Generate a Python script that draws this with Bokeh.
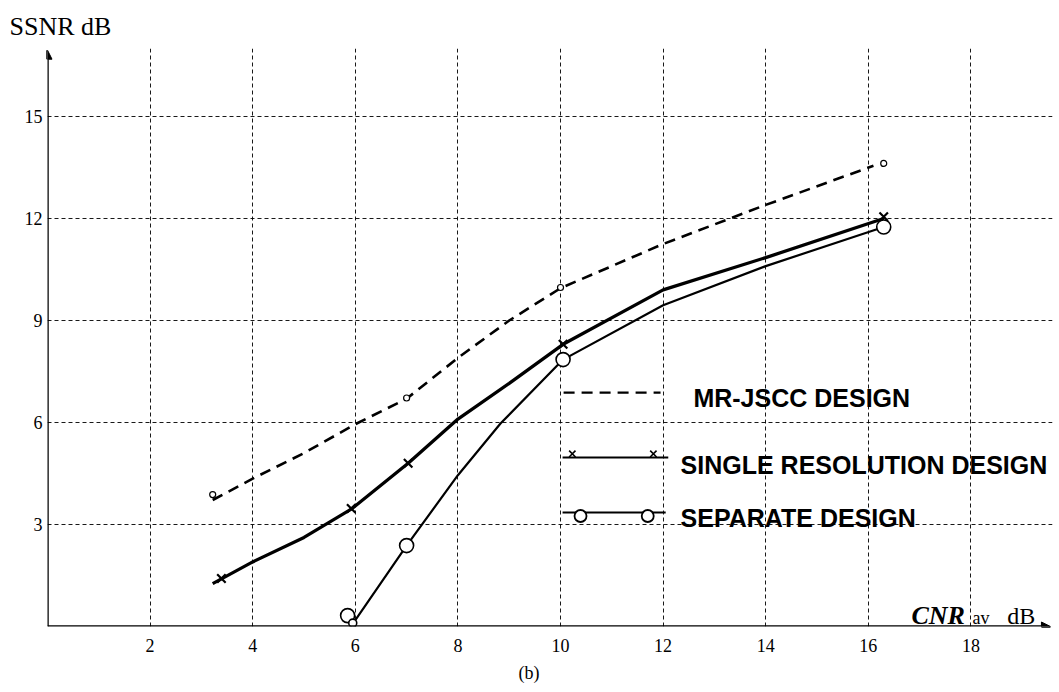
from bokeh.plotting import figure
from bokeh.models import Arrow, NormalHead, Label, FixedTicker, Range1d, Title
from bokeh.embed import file_html
from bokeh.resources import INLINE

# ---- data ----
x_ticks = [2, 4, 6, 8, 10, 12, 14, 16, 18]
y_ticks = [3, 6, 9, 12, 15]

mr_x = [3.22, 4.0, 5.0, 6.0, 7.0, 8.0, 9.0, 10.0, 12.0, 14.0, 16.1]
mr_y = [3.72, 4.35, 5.1, 5.95, 6.7, 7.9, 9.0, 9.95, 11.25, 12.4, 13.55]
mr_mark_x = [3.22, 7.0, 10.0, 16.3]
mr_mark_y = [3.88, 6.72, 9.97, 13.62]

sr_x = [3.22, 4.0, 5.0, 5.92, 7.03, 8.0, 9.0, 10.05, 12.0, 14.0, 16.3]
sr_y = [1.26, 1.9, 2.62, 3.45, 4.8, 6.1, 7.15, 8.3, 9.9, 10.85, 12.0]
sr_mark_x = [3.39, 5.92, 7.03, 10.05, 16.3]
sr_mark_y = [1.41, 3.47, 4.8, 8.3, 12.05]

sep_x = [5.95, 7.0, 8.0, 8.83, 10.05, 12.0, 14.0, 16.3]
sep_y = [0.08, 2.38, 4.45, 5.97, 7.85, 9.45, 10.6, 11.75]
sep_mark_x = [5.85, 5.95, 7.0, 10.05, 16.3]
sep_mark_y = [0.32, 0.1, 2.38, 7.85, 11.75]

legend_labels = ["MR-JSCC DESIGN", "SINGLE RESOLUTION DESIGN", "SEPARATE DESIGN"]

SERIF = "Liberation Serif"
SANS = "Liberation Sans"

p = figure(width=1058, height=690, output_backend="svg", toolbar_location=None,
           x_range=Range1d(0, 19.59), y_range=Range1d(0, 17),
           min_border_left=47, min_border_right=6, min_border_top=48, min_border_bottom=64)
p.outline_line_color = None
p.background_fill_color = "white"

# y-axis title at the top-left
p.title.text = "SSNR dB"
p.title.align = "left"
p.title.offset = -38
p.title.text_font = SERIF
p.title.text_font_style = "normal"
p.title.text_font_size = "26px"
p.title.text_color = "black"
p.title.standoff = 16

# caption below
p.add_layout(Title(text="(b)", align="left", offset=471, text_font=SERIF,
                   text_font_style="normal", text_font_size="18px", text_color="black",
                   standoff=12), "below")

# axes: labels only, lines drawn as arrows
for ax in (p.xaxis[0], p.yaxis[0]):
    ax.axis_line_color = None
    ax.major_tick_line_color = None
    ax.minor_tick_line_color = None
    ax.major_tick_out = 0
    ax.major_tick_in = 0
    ax.major_label_text_font = SERIF
    ax.major_label_text_font_size = "18px"
    ax.major_label_text_color = "black"
p.xaxis[0].ticker = FixedTicker(ticks=x_ticks)
p.yaxis[0].ticker = FixedTicker(ticks=y_ticks)
p.xaxis[0].major_label_standoff = 12
p.yaxis[0].major_label_standoff = 5

for g, t in ((p.xgrid[0], x_ticks), (p.ygrid[0], y_ticks)):
    g.ticker = FixedTicker(ticks=t)
    g.grid_line_color = "black"
    g.grid_line_dash = "4 3"
    g.grid_line_width = 1
    g.grid_line_alpha = 0.9

# axis arrows
p.add_layout(Arrow(end=NormalHead(size=9, fill_color="black", line_color="black"),
                   x_start=0, y_start=0, x_end=0, y_end=16.95, line_width=2.5, line_color="black"))
p.add_layout(Arrow(end=NormalHead(size=9, fill_color="black", line_color="black"),
                   x_start=0, y_start=0, x_end=19.55, y_end=0, line_width=2.5, line_color="black"))

# MR-JSCC (dashed)
p.line(mr_x, mr_y, line_color="black", line_width=2.6, line_dash="11 7")
p.scatter(mr_mark_x, mr_mark_y, marker="circle", size=6, line_color="black",
          fill_color="white", line_width=1.2)

# single resolution (thick solid, x markers)
p.line(sr_x, sr_y, line_color="black", line_width=3.3)
p.scatter(sr_mark_x, sr_mark_y, marker="x", size=12, line_color="black", line_width=2.2)

# separate design (thinner solid, circles)
p.line(sep_x, sep_y, line_color="black", line_width=2.2)
p.scatter(sep_mark_x, sep_mark_y, marker="circle", size=[14, 8, 14, 14, 14],
          line_color="black", fill_color="white", line_width=1.6)

# custom legend
p.line([10.06, 11.95], [6.88, 6.88], line_color="black", line_width=2.4, line_dash="11 7")
p.line([10.04, 12.1], [4.97, 4.97], line_color="black", line_width=2)
p.scatter([10.23, 11.81], [5.08, 5.08], marker="x", size=9, line_color="black", line_width=1.6)
p.line([10.04, 12.05], [3.35, 3.35], line_color="black", line_width=2)
p.scatter([10.39, 11.7], [3.25, 3.25], marker="circle", size=12, line_color="black",
          fill_color="white", line_width=1.8)

leg_pos = [(12.59, 6.71), (12.34, 4.74), (12.34, 3.18)]
for (lx, ly), txt in zip(leg_pos, legend_labels):
    p.add_layout(Label(x=lx, y=ly, text=txt, text_font=SANS, text_font_style="bold",
                       text_font_size="25px", text_color="black", text_baseline="alphabetic"))

# x-axis title inside the frame, right end
p.add_layout(Label(x=16.84, y=0.32, text="CNR", text_font=SERIF, text_font_style="bold italic",
                   text_font_size="26px", text_color="black", text_baseline="alphabetic"))
p.add_layout(Label(x=18.03, y=0.25, text="av", text_font=SERIF, text_color="black",
                   text_font_size="18px", text_baseline="alphabetic"))
p.add_layout(Label(x=18.71, y=0.32, text="dB", text_font=SERIF, text_color="black",
                   text_font_size="24px", text_baseline="alphabetic"))

open("out.html", "w").write(file_html(p, INLINE))
